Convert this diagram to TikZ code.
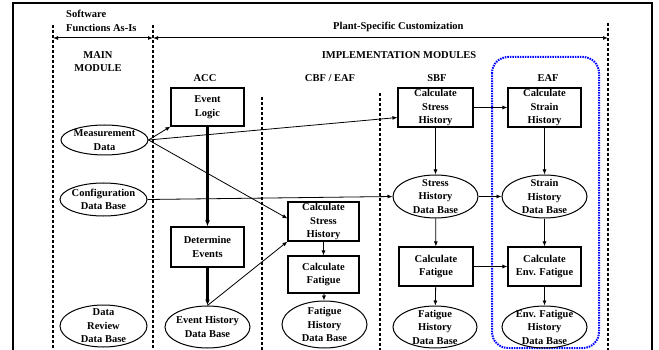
\documentclass[tikz,border=0pt]{standalone}
\usepackage{fontspec}
\setmainfont{Liberation Serif}
\usetikzlibrary{shapes.geometric,arrows.meta}
\begin{document}
\begin{tikzpicture}[x=1pt,y=-1pt,
  txt/.style={font=\fontsize{10.5}{13.5}\selectfont\bfseries, align=center, inner sep=0pt},
  box/.style={draw, line width=1.1pt, inner sep=0pt, align=center, font=\fontsize{10.5}{13.5}\selectfont\bfseries},
  ell/.style={draw, ellipse, line width=1pt, inner sep=0pt},
  conn/.style={line width=0.8pt, -{Latex[length=5pt,width=4pt]}},
  thick conn/.style={line width=2.2pt, -{Latex[length=6pt,width=5pt]}},
  sep/.style={line width=1.3pt, dash pattern=on 3pt off 2pt},
  hdr/.style={line width=1pt, {Latex[length=5pt,width=4pt]}-{Latex[length=5pt,width=4pt]}}
]
\useasboundingbox (0,0) rectangle (659,350);
\fill[white] (0,0) rectangle (659,350);
% frame
\draw[line width=1.3pt] (13,350) -- (13,3) -- (652,3) -- (652,350);
% separators
\coordinate (s1t) at (53,25);  \coordinate (s1b) at (53,350);
\coordinate (s2t) at (153,25); \coordinate (s2b) at (153,350);
\coordinate (s3t) at (262,97); \coordinate (s3b) at (262,350);
\coordinate (s4t) at (380,93); \coordinate (s4b) at (380,350);
\coordinate (s5t) at (608,23); \coordinate (s5b) at (608,350);
\draw[sep] (s1t) -- (s1b);
\draw[sep] (s2t) -- (s2b);
\draw[sep] (s3t) -- (s3b);
\draw[sep] (s4t) -- (s4b);
\draw[sep] (s5t) -- (s5b);
% header arrows
\coordinate (h1) at (53,38); \coordinate (h2) at (153,38); \coordinate (h3) at (608,38);
\draw[hdr] (h1) -- (h2);
\draw[hdr] (h2) -- (h3);
% header texts
\node[txt, anchor=west, align=left] (sw) at (66,21) {Software\\Functions As-Is};
\node[txt, anchor=west] (psc) at (333,27) {Plant-Specific Customization};
\node[txt] (impl) at (399,55) {IMPLEMENTATION MODULES};
\node[txt] (mainmod) at (98,61.5) {MAIN\\MODULE};
\node[txt] (acc) at (205,78) {ACC};
\node[txt] (cbf) at (330,78) {CBF / EAF};
\node[txt] (sbf) at (437,78) {SBF};
\node[txt] (eaf) at (548,78) {EAF};
% blue EAF region
\draw[blue, line width=2pt, dash pattern=on 1.5pt off 1pt, rounded corners=16pt] (492,57) rectangle (599,348);
% boxes
\node[box, minimum width=73pt, minimum height=38pt] (evl) at (207.5,107) {Event\\Logic};
\node[box, minimum width=73pt, minimum height=40pt] (det) at (207.5,247) {Determine\\Events};
\node[box, minimum width=71pt, minimum height=39pt] (cs1) at (323.5,221.5) {Calculate\\Stress\\History};
\node[box, minimum width=71pt, minimum height=37pt] (cf1) at (323.5,274.5) {Calculate\\Fatigue};
\node[box, minimum width=75pt, minimum height=39pt] (cs2) at (435.5,107.5) {Calculate\\Stress\\History};
\node[box, minimum width=73pt, minimum height=39pt] (cstr) at (544.5,107.5) {Calculate\\Strain\\History};
\node[box, minimum width=74pt, minimum height=39pt] (cf2) at (436,266.5) {Calculate\\Fatigue};
\node[box, minimum width=73pt, minimum height=39pt] (cef) at (544.5,266.5) {Calculate\\Env. Fatigue};
% ellipses
\node[ell, minimum width=87pt, minimum height=30pt, label={[txt]center:Measurement\\Data}] (md) at (104.5,140) {};
\node[ell, minimum width=87pt, minimum height=33pt, label={[txt]center:Configuration\\Data Base}] (cdb) at (103.5,199.5) {};
\node[ell, minimum width=87pt, minimum height=42pt, label={[txt]center:Data\\Review\\Data Base}] (drdb) at (103.5,326) {};
\node[ell, minimum width=85pt, minimum height=42pt, label={[txt]center:Event History\\Data Base}] (ehdb) at (207.5,327) {};
\node[ell, minimum width=85pt, minimum height=47pt, label={[txt]center:Fatigue\\History\\Data Base}] (fhdb1) at (324.5,324.5) {};
\node[ell, minimum width=85pt, minimum height=43pt, label={[txt]center:Stress\\History\\Data Base}] (shdb) at (435.5,196.5) {};
\node[ell, minimum width=85pt, minimum height=43pt, label={[txt]center:Strain\\History\\Data Base}] (sthdb) at (544.5,196.5) {};
\node[ell, minimum width=84pt, minimum height=42pt, label={[txt]center:Fatigue\\History\\Data Base}] (fhdb2) at (435,327) {};
\node[ell, minimum width=85pt, minimum height=42pt, label={[txt]center:Env. Fatigue\\History\\Data Base}] (efdb) at (544.5,327) {};
% connectors
\draw[conn] (md.east) -- (evl.south west);
\draw[conn] (md.east) -- ([yshift=-10pt]cs2.west);
\draw[conn] (md.east) -- ([yshift=3pt]cs1.west);
\draw[conn] (cdb.east) -- (shdb.west);
\draw[thick conn] (evl) -- (det);
\draw[thick conn] (det) -- (ehdb);
\draw[conn] (ehdb.north) -- (cs1.south west);
\draw[conn] (cs1) -- (cf1);
\draw[conn] (cf1) -- (fhdb1);
\draw[conn] (cs2) -- (cstr);
\draw[conn] (cs2) -- (shdb);
\draw[conn] (cstr) -- (sthdb);
\draw[conn] (shdb) -- (sthdb);
\draw[conn] (shdb) -- (cf2);
\draw[conn] (sthdb) -- (cef);
\draw[conn] (cf2) -- (cef);
\draw[conn] (cf2) -- (fhdb2);
\draw[conn] (cef) -- (efdb);
\end{tikzpicture}
\end{document}
